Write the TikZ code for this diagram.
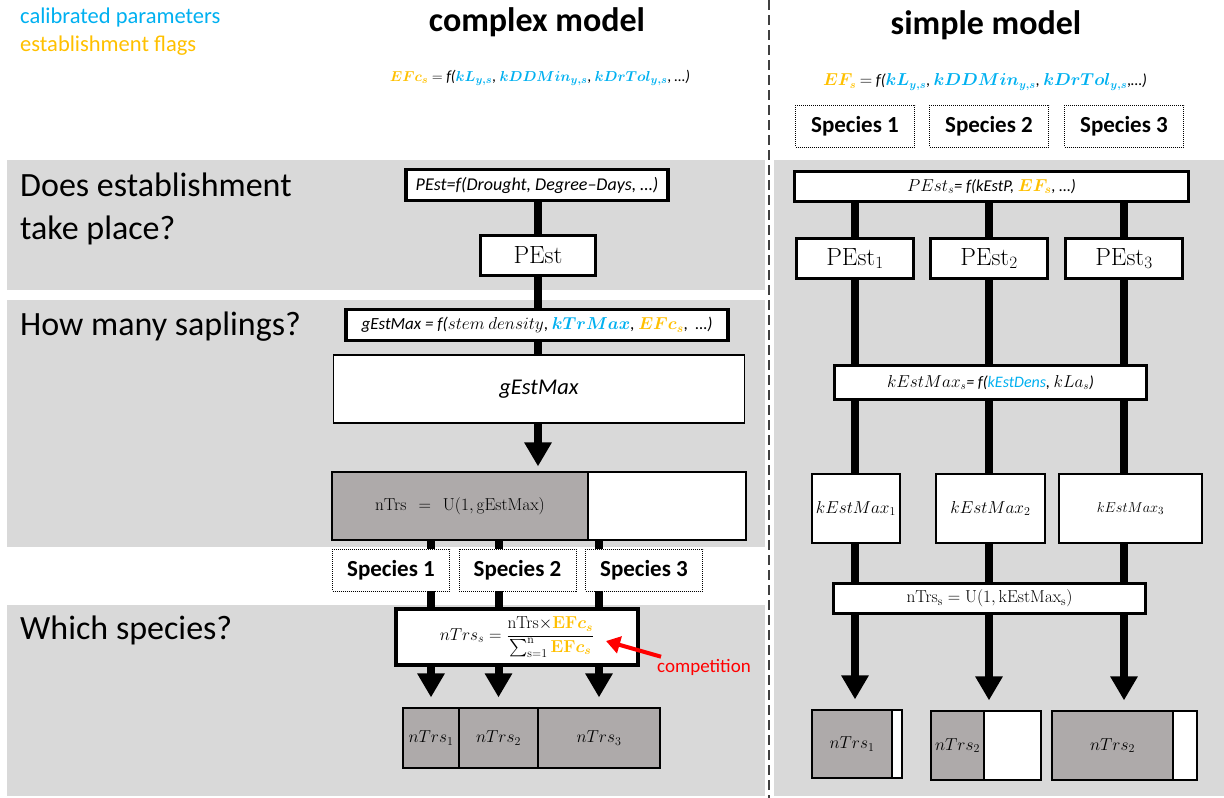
\documentclass[tikz,border=0pt]{standalone}
\usepackage[no-math]{fontspec}
\setmainfont{Carlito}
\usepackage{amsmath,bm}
\usetikzlibrary{arrows.meta}
\definecolor{cal}{RGB}{0,176,240}
\definecolor{flag}{RGB}{255,192,0}
\definecolor{band}{RGB}{217,217,217}
\definecolor{boxg}{RGB}{174,170,170}
\newcommand\fsz[1]{\fontsize{#1}{#1}\selectfont}
\newcommand\cpar[1]{{\color{cal}$\bm{#1}$}}
\newcommand\eflag[1]{{\color{flag}$\bm{#1}$}}
\pgfdeclarelayer{back}
\pgfdeclarelayer{bg}
\pgfsetlayers{back,bg,main}
\tikzset{
 conn/.style={line width=8pt},
 arr/.style={line width=8pt,-{Triangle[width=26pt,length=24pt]}},
 redarr/.style={line width=4pt,red,-{Triangle[width=17pt,length=14pt]}},
 fbox/.style={draw,line width=3.5pt,fill=white,inner sep=0pt},
 tbox/.style={draw,line width=1.2pt,fill=white,inner sep=0pt},
 gbox/.style={draw,line width=1.2pt,fill=boxg,inner sep=0pt},
 spbox/.style={draw,densely dotted,line width=1pt,fill=white,inner sep=0pt,font=\fsz{23}\bfseries,minimum width=117pt,minimum height=42pt},
 sz/.style 2 args={minimum width=#1pt,minimum height=#2pt},
 lab/.style={anchor=west,inner sep=0pt,font=\fsz{34}},
}
\begin{document}
\begin{tikzpicture}[x=1pt,y=-1pt]
\useasboundingbox (0,0) rectangle (1224,798);
\begin{pgfonlayer}{back}
\fill[band] (7,160) rectangle (765,290);
\fill[band] (7,300) rectangle (765,547);
\fill[band] (7,605) rectangle (765,796);
\fill[band] (774,160) rectangle (1224,796);
\draw[black!75,line width=1.5pt,dash pattern=on 10pt off 5pt] (769,0) -- (769,798);
\end{pgfonlayer}

% legend and titles
\node[anchor=west,inner sep=0pt,font=\fsz{22.5},text=cal] (leg1) at (20,18) {calibrated parameters};
\node[anchor=west,inner sep=0pt,font=\fsz{22.5},text=flag] (leg2) at (20,46) {establishment flags};
\node[font=\fsz{34}\bfseries] (tc) at (537,22) {complex model};
\node[font=\fsz{34}\bfseries] (ts) at (986,25) {simple model};

% band labels
\node[lab,align=left,font=\fontsize{34}{43}\selectfont] (q1) at (20,209) {Does establishment\\take place?};
\node[lab] (q2) at (20,327) {How many saplings?};
\node[lab] (q3) at (20,630) {Which species?};

% complex model
\node (efc) at (540,78) {\fsz{15.5}\eflag{EFc_s} $=$ \textit{f(}\cpar{kL_{y,s}}, \cpar{kDDMin_{y,s}}, \cpar{kDrTol_{y,s}}, \textit{…)}};
\node[fbox,sz={262}{31}] (pestf) at (537,185) {\fsz{18}\itshape PEst=f(Drought, Degree\textendash Days, …)};
\node[fbox,line width=3pt,sz={115}{40}] (pest) at (538,255) {\fsz{23.5}$\mathrm{PEst}$};
\node[fbox,sz={382}{31}] (gform) at (537,325) {\fsz{17}\textit{gEstMax = f(}$stem\ density$, \cpar{kTrMax}, \eflag{EFc_s}, \ \textit{…)}};
\node[tbox,sz={411}{68}] (gbx) at (539,389) {\fsz{22.5}\itshape gEstMax};
\node[gbox,sz={256}{68}] (ntrsg) at (460,506) {\fsz{16}$\mathrm{nTrs\ \ =\ \ U(1, gEstMax)}$};
\node[tbox,sz={158}{68}] (ntrsw) at (667,506) {};
\node[spbox] (sp1) at (391,570) {Species 1};
\node[spbox] (sp2) at (517.5,570) {Species 2};
\node[spbox] (sp3) at (644,570) {Species 3};
\node[fbox,sz={242}{56}] (sform) at (517,637) {\fsz{16.5}$nTrs_s = \dfrac{\mathrm{nTrs}{\times}\textcolor{flag}{\mathbf{EF}\bm{c_s}}}{\sum_{\mathrm{s=1}}^{\mathrm{n}}\textcolor{flag}{\mathbf{EF}\bm{c_s}}}$};
\node[gbox,sz={56}{60}] (b1) at (431,738) {\fsz{17}$nTrs_1$};
\node[gbox,sz={79}{60}] (b2) at (498.5,738) {\fsz{17}$nTrs_2$};
\node[gbox,sz={122}{60}] (b3) at (599,738) {\fsz{17}$nTrs_3$};
\node[font=\fsz{19},text=red,inner sep=0pt] (comp) at (704,667) {competition};
\coordinate (comptip) at (606,641);
\draw[redarr] ([xshift=4pt,yshift=2pt]comp.north west) -- (comptip);

% simple model
\node (efs) at (985,82) {\fsz{16}\eflag{EF_s} $=$ \textit{f(}\cpar{kL_{y,s}}, \cpar{kDDMin_{y,s}}, \cpar{kDrTol_{y,s}},\textit{…)}};
\node[spbox,minimum width=119pt] (rs1) at (855,126) {Species 1};
\node[spbox,minimum width=119pt] (rs2) at (989,126) {Species 2};
\node[spbox,minimum width=119pt] (rs3) at (1124,126) {Species 3};
\node[fbox,sz={394}{30}] (pesf) at (991.5,186.5) {\fsz{16.5}$PEst_s$\textit{= f(kEstP, }\eflag{EF_s}\textit{, …)}};
\node[fbox,line width=3pt,sz={117}{40}] (p1) at (855,258.5) {\fsz{23.5}$\mathrm{PEst_1}$};
\node[fbox,line width=3pt,sz={117}{40}] (p2) at (989,258.5) {\fsz{23.5}$\mathrm{PEst_2}$};
\node[fbox,line width=3pt,sz={117}{40}] (p3) at (1124,258.5) {\fsz{23.5}$\mathrm{PEst_3}$};
\node[fbox,sz={312}{34}] (kform) at (990.5,382.5) {\fsz{16}$kEstMax_s$\textit{= f(}{\color{cal}\itshape kEstDens}\textit{, }$kLa_s$\textit{)}};
\node[tbox,sz={88}{69}] (k1) at (856,508.5) {\fsz{16.5}$kEstMax_1$};
\node[tbox,sz={109}{69}] (k2) at (990.5,508.5) {\fsz{16.5}$kEstMax_2$};
\node[tbox,sz={143}{69}] (k3) at (1130.5,508.5) {\fsz{15.5}$kEstMax_3$};
\node[fbox,sz={312}{30}] (nform) at (989.5,598.5) {\fsz{17.5}$\mathrm{nTrs_s = U(1, kEstMax_s)}$};
\node[gbox,sz={80}{68}] (r1g) at (852,744) {\fsz{17}$nTrs_1$};
\node[tbox,sz={10}{68}] (r1w) at (897,744) {};
\node[gbox,sz={53}{69}] (r2g) at (957.5,745.5) {\fsz{17}$nTrs_2$};
\node[tbox,sz={57}{69}] (r2w) at (1012.5,745.5) {};
\node[gbox,sz={121}{69}] (r3g) at (1112.5,745.5) {\fsz{17}$nTrs_2$};
\node[tbox,sz={24}{69}] (r3w) at (1185,745.5) {};

\begin{pgfonlayer}{bg}
% complex connectors
\draw[conn] (pestf.south -| pest.north) -- (pest.north);
\draw[conn] (pest.south) -- (gform.north -| pest.south);
\draw[conn] (gform.south -| pest.south) -- (gbx.north -| pest.south);
\draw[arr,shorten >=5pt] (gbx.south -| pest.south) -- (ntrsg.north -| pest.south);
\foreach \b in {b1,b2,b3}{
  \draw[conn] (ntrsg.south -| \b.north) -- (sform.north -| \b.north);
  \draw[arr,shorten >=10pt] (sform.south -| \b.north) -- (\b.north);
}
% simple connectors
\foreach \p/\r in {p1/r1g,p2/r2g,p3/r3g}{
  \draw[conn] (pesf.south -| \p.north) -- (\p.north);
  \draw[conn] (\p.south) -- (kform.north -| \p.south);
  \draw[conn] (kform.south -| \p.south) -- (nform.north -| \p.south);
  \draw[arr,shorten >=10pt] (nform.south -| \p.south) -- (\r.north -| \p.south);
}
\end{pgfonlayer}
\end{tikzpicture}
\end{document}
